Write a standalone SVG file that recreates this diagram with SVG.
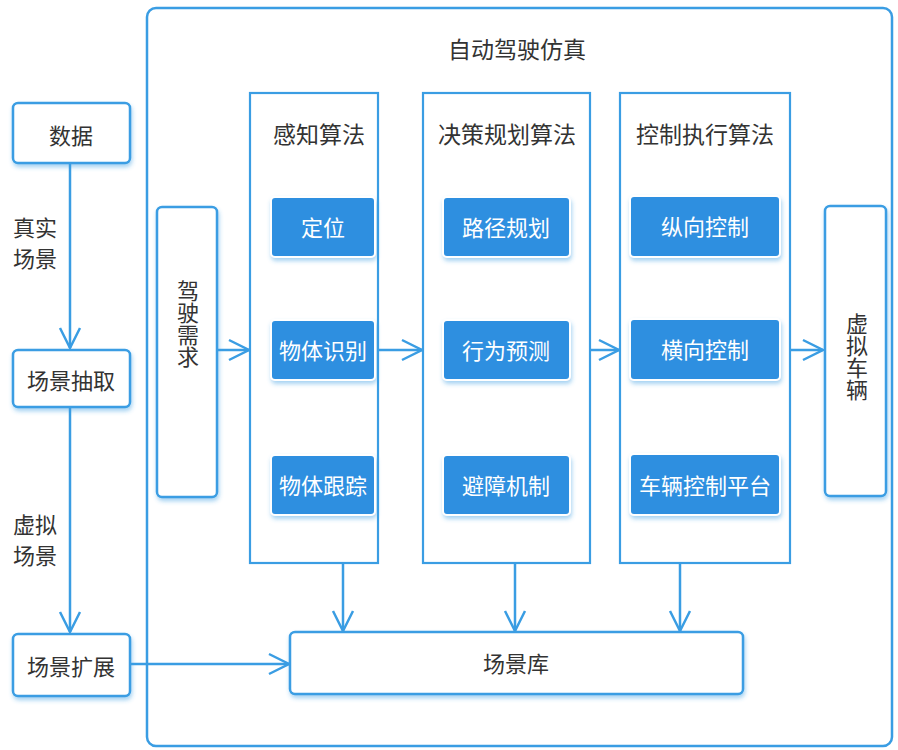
<svg xmlns="http://www.w3.org/2000/svg" width="898" height="750" viewBox="0 0 898 750">
<defs>
<style>
.t{font-family:"Noto Sans CJK SC","Noto Sans",sans-serif;fill:#333;font-size:22px;text-anchor:middle;dominant-baseline:central}
.h{font-size:23px}
.v{writing-mode:vertical-rl;glyph-orientation-vertical:0}
.w{fill:#fff}
.box{fill:#fff;stroke:#3a9de3;stroke-width:2.5}
.col{fill:#fff;stroke:#3a9de3;stroke-width:2.2}
.blue{fill:#2d8fe0;stroke:#ffffff;stroke-width:2}
.ln{fill:none;stroke:#3a9de3;stroke-width:2.5}
</style>
<filter id="sh" x="-20%" y="-20%" width="140%" height="150%">
<feDropShadow dx="1" dy="3" stdDeviation="2" flood-color="#3a9de3" flood-opacity="0.45"/>
</filter>
<marker id="ar" markerUnits="userSpaceOnUse" markerWidth="26" markerHeight="26" viewBox="-1 -1 26 26" refX="22" refY="11" orient="auto">
<path d="M2,1 L22,11 L2,21" fill="none" stroke="#3a9de3" stroke-width="2.5"/>
</marker>
</defs>
<rect width="898" height="750" fill="#fff"/>

<g id="container">
<rect x="147" y="8" width="745" height="738" rx="9" fill="none" stroke="#3a9de3" stroke-width="2.5"/>
<text class="t h" x="517" y="48">自动驾驶仿真</text>
</g>

<g id="connectors">
<line class="ln" x1="70" y1="163" x2="70" y2="348" marker-end="url(#ar)"/>
<line class="ln" x1="70" y1="407" x2="70" y2="632" marker-end="url(#ar)"/>
<line class="ln" x1="130" y1="664" x2="289" y2="664" marker-end="url(#ar)"/>
<line class="ln" x1="217" y1="350" x2="249" y2="350" marker-end="url(#ar)"/>
<line class="ln" x1="378" y1="350" x2="422" y2="350" marker-end="url(#ar)"/>
<line class="ln" x1="590" y1="350" x2="619" y2="350" marker-end="url(#ar)"/>
<line class="ln" x1="790" y1="350" x2="823" y2="350" marker-end="url(#ar)"/>
<line class="ln" x1="343" y1="563" x2="343" y2="631" marker-end="url(#ar)"/>
<line class="ln" x1="515" y1="563" x2="515" y2="631" marker-end="url(#ar)"/>
<line class="ln" x1="680" y1="563" x2="680" y2="631" marker-end="url(#ar)"/>
</g>

<g id="label-real">
<text class="t" x="35" y="226">真实</text>
<text class="t" x="35" y="257">场景</text>
</g>
<g id="label-virtual">
<text class="t" x="35" y="523">虚拟</text>
<text class="t" x="35" y="554">场景</text>
</g>

<g id="n-data">
<rect class="box" filter="url(#sh)" x="13" y="103" width="117" height="60" rx="5"/>
<text class="t" x="71" y="134">数据</text>
</g>
<g id="n-extract">
<rect class="box" filter="url(#sh)" x="13" y="350" width="117" height="57" rx="5"/>
<text class="t" x="71" y="379">场景抽取</text>
</g>
<g id="n-expand">
<rect class="box" filter="url(#sh)" x="13" y="634" width="117" height="62" rx="5"/>
<text class="t" x="71" y="665">场景扩展</text>
</g>

<g id="n-demand">
<rect class="box" filter="url(#sh)" x="157" y="207" width="60" height="290" rx="5"/>
<text class="t v" x="188" y="324">驾驶需求</text>
</g>

<g id="n-perception">
<rect class="col" x="250" y="93" width="128" height="470"/>
<text class="t h" x="319" y="133">感知算法</text>
</g>
<g id="n-planning">
<rect class="col" x="423" y="93" width="167" height="470"/>
<text class="t h" x="507" y="133">决策规划算法</text>
</g>
<g id="n-control">
<rect class="col" x="620" y="93" width="170" height="470"/>
<text class="t h" x="705" y="133">控制执行算法</text>
</g>

<g id="n-locate">
<rect class="blue" filter="url(#sh)" x="271" y="197" width="104" height="60" rx="4"/>
<text class="t w" x="323" y="226">定位</text>
</g>
<g id="n-recog">
<rect class="blue" filter="url(#sh)" x="271" y="320" width="104" height="60" rx="4"/>
<text class="t w" x="323" y="349">物体识别</text>
</g>
<g id="n-track">
<rect class="blue" filter="url(#sh)" x="271" y="455" width="104" height="60" rx="4"/>
<text class="t w" x="323" y="484">物体跟踪</text>
</g>

<g id="n-path">
<rect class="blue" filter="url(#sh)" x="443" y="197" width="127" height="60" rx="4"/>
<text class="t w" x="506" y="226">路径规划</text>
</g>
<g id="n-predict">
<rect class="blue" filter="url(#sh)" x="443" y="320" width="127" height="60" rx="4"/>
<text class="t w" x="506" y="349">行为预测</text>
</g>
<g id="n-avoid">
<rect class="blue" filter="url(#sh)" x="443" y="455" width="127" height="60" rx="4"/>
<text class="t w" x="506" y="484">避障机制</text>
</g>

<g id="n-long">
<rect class="blue" filter="url(#sh)" x="630" y="196" width="150" height="61" rx="4"/>
<text class="t w" x="705" y="225">纵向控制</text>
</g>
<g id="n-lat">
<rect class="blue" filter="url(#sh)" x="630" y="319" width="150" height="61" rx="4"/>
<text class="t w" x="705" y="348">横向控制</text>
</g>
<g id="n-platform">
<rect class="blue" filter="url(#sh)" x="630" y="454" width="150" height="61" rx="4"/>
<text class="t w" x="705" y="484">车辆控制平台</text>
</g>

<g id="n-vehicle">
<rect class="box" filter="url(#sh)" x="825" y="206" width="61" height="290" rx="5"/>
<text class="t v" x="857" y="357">虚拟车辆</text>
</g>

<g id="n-library">
<rect class="box" filter="url(#sh)" x="290" y="632" width="453" height="62" rx="5"/>
<text class="t" x="516" y="662">场景库</text>
</g>
</svg>
